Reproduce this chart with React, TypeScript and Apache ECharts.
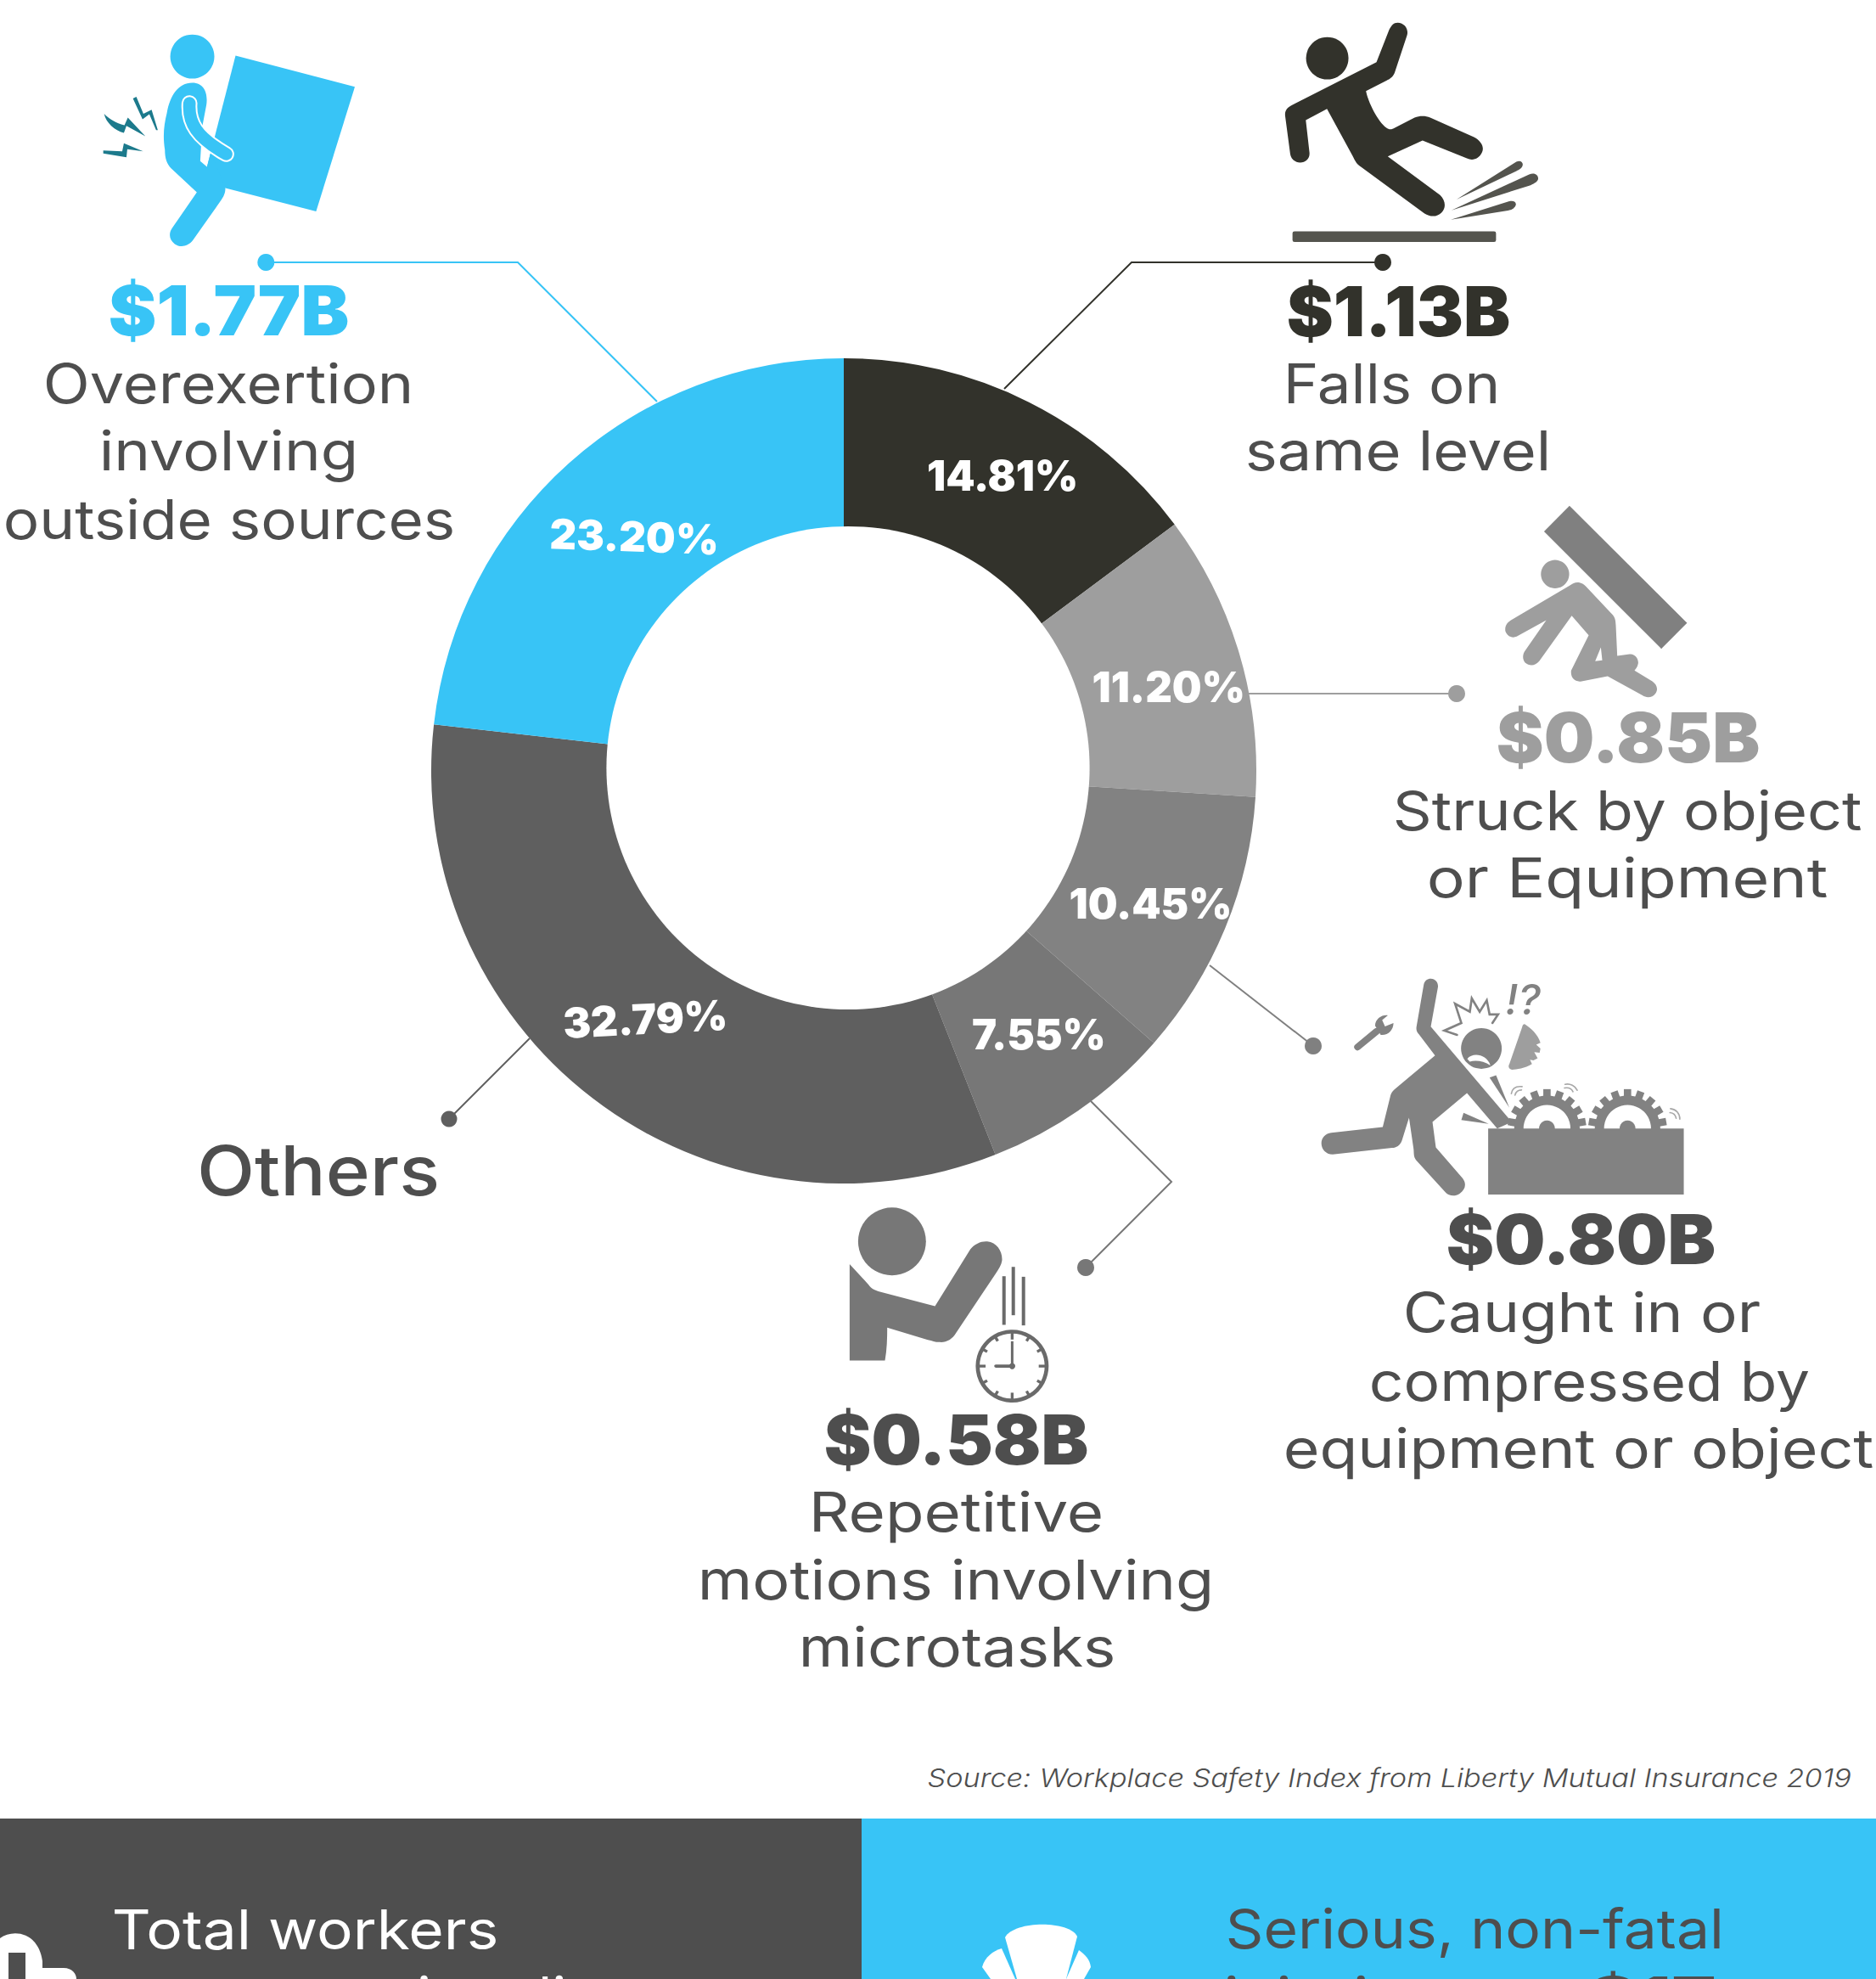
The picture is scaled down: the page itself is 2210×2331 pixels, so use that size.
import React, { useEffect, useRef } from "react";
import * as echarts from "echarts";

const categories = [
  "Falls on same level",
  "Struck by object or Equipment",
  "Caught in or compressed by equipment or object",
  "Repetitive motions involving microtasks",
  "Others",
  "Overexertion involving outside sources",
];
const shares = [14.81, 11.2, 10.45, 7.55, 32.79, 23.2];
const sliceColors = ["#32322B", "#9E9E9E", "#828282", "#777777", "#5F5F5F", "#38C4F6"];
const labelOffsets = [[15, -5], [15, 11], [7, 10], [9, -3], [0, -12], [9, 10]];
const labelTilts = [0, 0, 0, 0, 3, -2];
const amounts = { over: 1.77, falls: 1.13, struck: 0.85, caught: 0.8, rep: 0.58 };
const source = "Source: Workplace Safety Index from Liberty Mutual Insurance 2019";

const BLUE = "#38C4F6";
const INK = "#4E4E4E";
const FONT = "Inter, 'Noto Sans', sans-serif";
const BODY_WEIGHT = 400;

const usd = (v: number) => `$${v.toFixed(2)}B`;

const measureCtx = document.createElement("canvas").getContext("2d")!;
function txt(
  text: string, x0: number, x1: number, baseline: number, size: number,
  weight: number, fill: string, italic = false,
) {
  measureCtx.font = `${italic ? "italic " : ""}${weight} ${size}px Inter`;
  const w = measureCtx.measureText(text).width;
  const pad = (weight >= 800 ? 0.015 : 0.05) * size;
  return {
    type: "text", x: x0 - pad, y: baseline - 0.36 * size, scaleX: (x1 - x0 + 2 * pad) / w, scaleY: 1,
    style: {
      text, x: 0, y: 0, fontFamily: FONT, fontSize: size, fontWeight: weight,
      fontStyle: italic ? "italic" : "normal", fill, align: "left", verticalAlign: "middle",
    },
  };
}

const shapes: Record<string, string> = {
  liftBody: "M380 233 C425 233 435 275 430 310 L415 390 L408 510 L432 530 L445 480 L497 605 C497 625 490 635 482 648 L382 790 C362 815 335 815 318 803 C298 788 295 765 310 745 L396 620 L305 535 C290 520 283 500 283 470 C275 420 280 380 290 340 C300 280 330 233 380 233 Z",
  liftBox: "M533 137 L955 247 L818 688 L497 605 L432 530 Z",
  liftArm: "M370 305 C365 375 395 425 500 485",
  bolt1: "M68 342 C85 360 110 375 140 383 L152 356 L214 422 L147 385 L138 410 C105 400 75 375 68 342 Z",
  bolt2: "M170 288 L182 282 L207 342 L236 328 L258 400 L252 400 L228 344 L204 362 Z",
  bolt3: "M65 472 L132 475 L138 447 L206 475 L150 468 L147 496 L65 483 Z",
  fallBody: "M500 50 C525 50 540 75 533 95 L490 225 C485 240 475 248 460 255 L388 292 C395 330 430 400 460 422 C470 430 480 428 490 422 L560 386 C580 378 600 380 615 386 L770 455 C795 468 808 490 798 510 C788 532 765 540 745 530 L588 467 L465 523 L650 660 C670 680 672 705 655 722 C640 738 615 738 595 725 L370 560 C355 550 350 540 340 520 L250 355 L175 395 L188 510 C190 530 175 545 155 545 C135 545 122 530 120 515 L102 380 C100 360 110 350 125 342 L425 190 L470 75 C478 60 485 50 500 50 Z",
  streak1: "M708 676 L920 542 C935 535 945 545 942 555 C940 565 930 570 920 575 Z",
  streak2: "M690 714 L965 587 C985 578 998 590 997 602 C996 612 985 618 970 625 Z",
  streak3: "M688 747 L895 682 C910 678 920 685 918 695 C915 705 905 712 890 715 Z",
  struckBody: "M325 318 C340 318 348 325 356 333 L445 428 C458 440 460 450 461 470 L466 578 L510 572 C530 570 542 590 540 605 C538 618 530 625 527 630 L590 668 C605 678 612 695 602 710 C590 727 570 728 555 718 L432 650 L340 668 C315 672 300 655 303 630 L365 505 L305 436 L190 597 C175 615 155 615 140 602 C130 590 130 572 142 557 L215 452 L110 510 C90 518 75 505 70 490 C68 470 78 460 90 452 L300 328 C308 322 315 318 325 318 Z M408 548 L388 597 L413 594 Z",
  caughtBody: "M437 38 C455 38 465 55 462 70 L437 208 L713 533 L735 540 L672 568 L565 443 L443 545 L455 635 L550 745 C565 765 558 785 540 798 C520 812 500 805 490 795 L385 680 C375 668 378 655 376 640 L360 530 L335 610 C328 630 315 635 300 637 L90 660 C65 660 50 640 50 620 C50 600 65 585 85 583 L267 563 L295 450 C298 440 305 432 312 427 L452 310 L395 235 C385 225 385 215 387 205 L412 60 C415 45 425 38 437 38 Z",
  mouth: "M566 322 C585 298 635 305 648 345 C625 330 595 325 575 332 Z",
  burst: "M530 237 L485 222 L545 195 L523 127 L575 155 L582 108 L610 155 L635 115 L645 165 L675 165 L655 195",
  saw: "M770 200 C790 212 815 235 825 265 L810 272 L825 285 L822 300 L803 298 L815 320 L800 327 L788 325 L795 340 C770 355 740 360 725 360 C712 358 710 348 715 340 L760 210 C762 200 768 198 770 200 Z",
  shard1: "M645 388 L668 380 L715 495 Z",
  shard2: "M553 513 L642 552 L545 538 Z",
  waves: "M722 445 C725 425 740 418 760 420 M735 450 C738 438 745 432 758 432 M912 412 C930 408 948 418 955 433 M910 425 C925 422 935 428 940 438 M1285 498 C1305 500 1318 515 1318 535 M1283 512 C1295 513 1303 522 1305 532",
  wrench: "M240 205 C240 180 265 165 285 168 L265 185 L275 207 L305 195 C305 220 285 240 260 237 Z",
  repBody: "M303 327 L370 400 C380 415 395 420 410 425 L605 476 L730 275 C745 255 770 245 790 247 C825 250 845 285 842 315 C840 330 830 345 820 360 L680 570 C665 595 645 605 620 603 C605 603 595 598 580 595 L436 552 C436 590 435 630 428 668 L303 668 Z",
  tool: "M0 2283 C15 2272 45 2275 50 2310 L50 2318 L75 2318 C85 2318 90 2325 90 2331 L0 2331 Z M10 2331 L30 2331 L30 2300 L10 2300 Z",
  petalMid: "M1184 2282 C1195 2262 1260 2262 1269 2281 L1256 2331 L1198 2331 Z",
  petalLeft: "M1180 2295 L1196 2331 L1167 2331 L1157 2317 C1160 2305 1170 2298 1180 2295 Z",
  petalRight: "M1271 2297 L1256 2331 L1277 2331 L1285 2317 C1284 2308 1278 2302 1271 2297 Z",
};
Object.entries(shapes).forEach(([k, d]) => {
  echarts.graphic.registerShape(k, echarts.graphic.extendPath(d, {}));
});

const fillShape = (type: string, fill: string) => ({ type, style: { fill } });
const lineShape = (type: string, stroke: string, lineWidth: number) => ({
  type, style: { fill: "none", stroke, lineWidth, lineCap: "round", lineJoin: "miter" },
});
const dot = (cx: number, cy: number, r: number, fill: string) => ({ type: "circle", shape: { cx, cy, r }, style: { fill } });
const bar = (x: number, y: number, width: number, height: number, fill: string, r = 0) => ({
  type: "rect", shape: { x, y, width, height, r }, style: { fill },
});
const leader = (points: number[][], stroke: string) => ({
  type: "polyline", shape: { points }, style: { fill: "none", stroke, lineWidth: 2 },
});
const third = (x: number, y: number, children: any[]) => ({ type: "group", x, y, scaleX: 1 / 3, scaleY: 1 / 3, children });

function gear(cx: number, cy: number, color: string) {
  const teeth = [-80, -60, -40, -20, 0, 20, 40, 60, 80].map((a) => {
    const t = (a * Math.PI) / 180;
    return {
      type: "line",
      shape: { x1: cx + 105 * Math.sin(t), y1: cy - 105 * Math.cos(t), x2: cx + 139 * Math.sin(t), y2: cy - 139 * Math.cos(t) },
      style: { stroke: color, lineWidth: 26 },
    };
  });
  return [
    ...teeth,
    { type: "ring", shape: { cx, cy, r: 116, r0: 83 }, style: { fill: color } },
    dot(cx, cy, 28, color),
  ];
}

function clock() {
  const cx = 878, cy = 688, col = "#6A6A6A";
  const hours = [0, 1, 2, 3, 4, 5, 6, 7, 8, 9, 10, 11];
  const ticks = hours.map((h) => {
    const t = (h * 30 * Math.PI) / 180;
    const long = h % 3 === 0 ? 24 : 16;
    return {
      type: "line",
      shape: { x1: cx + 118 * Math.sin(t), y1: cy - 118 * Math.cos(t), x2: cx + (118 - long) * Math.sin(t), y2: cy - (118 - long) * Math.cos(t) },
      style: { stroke: col, lineWidth: 10 },
    };
  });
  return [
    { type: "circle", shape: { cx, cy, r: 122 }, style: { fill: "none", stroke: col, lineWidth: 14 } },
    ...ticks,
    { type: "line", shape: { x1: cx, y1: cy, x2: cx, y2: 600 }, style: { stroke: col, lineWidth: 9 } },
    { type: "line", shape: { x1: cx, y1: cy, x2: 820, y2: cy }, style: { stroke: col, lineWidth: 11, lineCap: "round" } },
    dot(cx, cy, 11, col),
  ];
}

function buildGraphics() {
  const g: any[] = [];
  // Donut hole, drawn off-centre over the ring
  g.push({ type: "circle", z: 3, silent: true, shape: { cx: 999, cy: 904.5, r: 284.6 }, style: { fill: "#FFFFFF" } });

  // Bottom panels
  g.push({ type: "rect", shape: { x: 0, y: 2142, width: 1015, height: 189 }, style: { fill: INK } });
  g.push({ type: "rect", shape: { x: 1015, y: 2142, width: 1195, height: 189 }, style: { fill: BLUE } });
  g.push(fillShape("tool", "#FFFFFF"));
  g.push(fillShape("petalMid", "#FFFFFF"), fillShape("petalLeft", "#FFFFFF"), fillShape("petalRight", "#FFFFFF"));

  // Leader lines and dots
  g.push(leader([[313, 309], [610, 309], [774, 473]], BLUE), dot(313.3, 309, 10, BLUE));
  g.push(leader([[1629, 309], [1333, 309], [1183, 458]], "#32322B"), dot(1629, 309, 10, "#32322B"));
  g.push(leader([[1716, 817], [1471, 817]], "#9E9E9E"), dot(1716, 817, 10, "#9E9E9E"));
  g.push(leader([[1547, 1232], [1425, 1137]], "#808080"), dot(1547, 1232, 10, "#808080"));
  g.push(leader([[1279, 1493], [1380, 1392], [1285, 1297]], "#777777"), dot(1279, 1493, 10, "#777777"));
  g.push(leader([[529, 1318], [624, 1223]], "#5F5F5F"), dot(529, 1318, 9.5, "#5F5F5F"));

  // Overexertion icon
  g.push(third(100, 20, [
    dot(380, 140, 78, BLUE),
    fillShape("liftBox", BLUE),
    fillShape("liftBody", BLUE),
    lineShape("liftArm", "#FFFFFF", 56),
    lineShape("liftArm", BLUE, 44),
    fillShape("bolt1", "#1C7A8C"), fillShape("bolt2", "#1C7A8C"), fillShape("bolt3", "#1C7A8C"),
  ]));

  // Falls icon
  g.push(third(1480, 10, [
    dot(251, 176, 75, "#32322B"),
    fillShape("fallBody", "#32322B"),
    fillShape("streak1", "#54544E"), fillShape("streak2", "#54544E"), fillShape("streak3", "#54544E"),
    bar(128, 788, 720, 38, "#54544E", 7),
  ]));

  // Struck-by icon
  g.push(third(1750, 580, [
    { type: "polygon", shape: { points: [[297, 47], [713, 462], [622, 553], [207, 138]] }, style: { fill: "#808080" } },
    dot(246, 289, 50, "#9E9E9E"),
    fillShape("struckBody", "#9E9E9E"),
  ]));

  // Caught-in icon
  const cg = "#828282";
  g.push(third(1540, 1140, [
    ...gear(848, 568, cg),
    ...gear(1133, 568, cg),
    fillShape("caughtBody", cg),
    dot(616, 285, 72, cg),
    fillShape("mouth", "#FFFFFF"),
    lineShape("burst", cg, 8),
    fillShape("saw", "#9E9E9E"),
    fillShape("shard1", cg), fillShape("shard2", cg),
    lineShape("waves", "#A8A8A8", 5),
    { type: "line", shape: { x1: 178, y1: 280, x2: 245, y2: 225 }, style: { stroke: cg, lineWidth: 24, lineCap: "round" } },
    fillShape("wrench", cg),
    bar(640, 568, 692, 234, cg),
    {
      type: "text", x: 700, y: 112,
      style: { text: "!?", x: 0, y: 0, fontFamily: FONT, fontSize: 150, fontWeight: 500, fontStyle: "italic", fill: cg, align: "left", verticalAlign: "middle" },
    },
  ]));

  // Repetitive-motion icon
  const rp = "#777777";
  g.push(third(900, 1380, [
    dot(453, 247, 120, rp),
    fillShape("repBody", rp),
    bar(843, 370, 12, 172, "#6A6A6A"),
    bar(876, 337, 12, 171, "#6A6A6A"),
    bar(912, 372, 12, 172, "#6A6A6A"),
    ...clock(),
  ]));

  // Texts
  g.push(
    txt(usd(amounts.over), 129, 410, 395, 81, 900, BLUE),
    txt("Overexertion", 54, 484, 475, 64, BODY_WEIGHT, INK),
    txt("involving", 120, 419, 554, 64, BODY_WEIGHT, INK),
    txt("outside sources", 7, 533, 635, 64, BODY_WEIGHT, INK),
    txt(usd(amounts.falls), 1517, 1778, 396, 81, 900, "#32322B"),
    txt("Falls on", 1515, 1764, 475, 64, BODY_WEIGHT, INK),
    txt("same level", 1470, 1824, 554, 64, BODY_WEIGHT, INK),
    txt(usd(amounts.struck), 1764, 2072, 898, 81, 900, "#9E9E9E"),
    txt("Struck by object", 1644, 2190, 977, 64, BODY_WEIGHT, INK),
    txt("or Equipment", 1684, 2150, 1057, 64, BODY_WEIGHT, INK),
    txt(usd(amounts.caught), 1705, 2020, 1489, 81, 900, INK),
    txt("Caught in or", 1656, 2071, 1569, 64, BODY_WEIGHT, INK),
    txt("compressed by", 1616, 2129, 1649, 64, BODY_WEIGHT, INK),
    txt("equipment or object", 1515, 2204, 1729, 64, BODY_WEIGHT, INK),
    txt(usd(amounts.rep), 972, 1281, 1725, 81, 900, INK),
    txt("Repetitive", 956, 1297, 1804, 64, BODY_WEIGHT, INK),
    txt("motions involving", 825, 1427, 1884, 64, BODY_WEIGHT, INK),
    txt("microtasks", 944, 1311, 1963, 64, BODY_WEIGHT, INK),
    txt(categories[4], 236, 514, 1408, 81, 500, INK),
    txt(source, 1094, 2180, 2105, 30, 300, INK, true),
    txt("Total workers", 135, 584, 2295, 64, BODY_WEIGHT, "#FFFFFF"),
    txt("compensation direct", 135, 790, 2375, 64, BODY_WEIGHT, "#FFFFFF"),
    txt("Serious, non-fatal", 1447, 2028, 2295, 64, BODY_WEIGHT, INK),
    txt("injuries cost", 1445, 1862, 2375, 64, BODY_WEIGHT, INK),
    txt("$17", 1871, 2021, 2375, 64, 800, INK),
  );
  return g;
}

export default function App() {
  const ref = useRef<HTMLDivElement>(null);
  useEffect(() => {
    document.body.style.margin = "0";
    const chart = echarts.init(ref.current!, undefined, { renderer: "svg" });
    chart.setOption({
      animation: false,
      backgroundColor: "#FFFFFF",
      series: [
        {
          type: "pie",
          z: 2,
          center: [994, 908],
          radius: [275, 486],
          startAngle: 90,
          clockwise: true,
          silent: true,
          avoidLabelOverlap: false,
          labelLine: { show: false },
          data: categories.map((name, i) => ({
            name,
            value: shares[i],
            itemStyle: { color: sliceColors[i] },
            label: {
              show: true,
              position: "inside",
              formatter: `${shares[i].toFixed(2)}%`,
              offset: labelOffsets[i],
              rotate: labelTilts[i],
              color: "#FFFFFF",
              fontFamily: FONT,
              fontSize: 49,
              fontWeight: 900,
            },
          })),
        },
      ],
      graphic: { elements: buildGraphics() },
    });
    return () => chart.dispose();
  }, []);
  return <div ref={ref} style={{ position: "absolute", left: 0, top: 0, width: 2210, height: 2331 }} />;
}
